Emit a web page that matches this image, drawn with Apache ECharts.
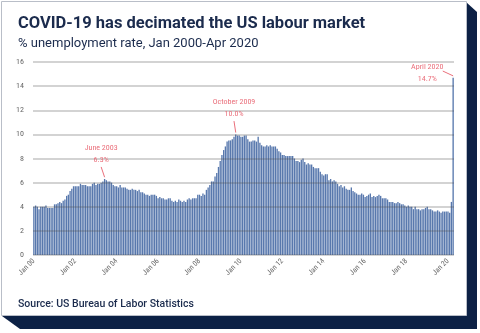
<!DOCTYPE html>
<html>
<head>
<meta charset="utf-8">
<script src="https://cdn.jsdelivr.net/npm/echarts@6/dist/echarts.min.js"></script>
<style>html,body{margin:0;padding:0;background:#fff;}#c{width:480px;height:333px;}</style>
</head>
<body>
<div id="c"></div>
<script>
const years = [2000,2001,2002,2003,2004,2005,2006,2007,2008,2009,2010,2011,2012,2013,2014,2015,2016,2017,2018,2019,2020];
const monthNames = ['Jan','Feb','Mar','Apr','May','Jun','Jul','Aug','Sep','Oct','Nov','Dec'];
const rate2000 = [4.0,4.1,4.0,3.8,4.0,4.0,4.0,4.1,3.9,3.9,3.9,3.9];
const rate2001 = [4.2,4.2,4.3,4.4,4.3,4.5,4.6,4.9,5.0,5.3,5.5,5.7];
const rate2002 = [5.7,5.7,5.7,5.9,5.8,5.8,5.8,5.7,5.7,5.7,5.9,6.0];
const rate2003 = [5.8,5.9,5.9,6.0,6.1,6.3,6.2,6.1,6.1,6.0,5.8,5.7];
const rate2004 = [5.7,5.6,5.8,5.6,5.6,5.6,5.5,5.4,5.4,5.5,5.4,5.4];
const rate2005 = [5.3,5.4,5.2,5.2,5.1,5.0,5.0,4.9,5.0,5.0,5.0,4.9];
const rate2006 = [4.7,4.8,4.7,4.7,4.6,4.6,4.7,4.7,4.5,4.4,4.5,4.4];
const rate2007 = [4.6,4.5,4.4,4.5,4.4,4.6,4.7,4.6,4.7,4.7,4.7,5.0];
const rate2008 = [5.0,4.9,5.1,5.0,5.4,5.6,5.8,6.1,6.1,6.5,6.8,7.3];
const rate2009 = [7.8,8.3,8.7,9.0,9.4,9.5,9.5,9.6,9.8,10.0,9.9,9.9];
const rate2010 = [9.8,9.8,9.9,9.9,9.6,9.4,9.4,9.5,9.5,9.4,9.8,9.3];
const rate2011 = [9.1,9.0,9.0,9.1,9.0,9.1,9.0,9.0,9.0,8.8,8.6,8.5];
const rate2012 = [8.3,8.3,8.2,8.2,8.2,8.2,8.2,8.0,7.8,7.8,7.7,7.9];
const rate2013 = [8.0,7.7,7.5,7.6,7.5,7.5,7.3,7.2,7.2,7.2,6.9,6.7];
const rate2014 = [6.6,6.7,6.7,6.2,6.3,6.1,6.2,6.1,5.9,5.7,5.8,5.6];
const rate2015 = [5.7,5.5,5.4,5.4,5.6,5.3,5.2,5.1,5.0,5.0,5.1,5.0];
const rate2016 = [4.8,4.9,5.0,5.1,4.8,4.9,4.8,4.9,5.0,4.9,4.7,4.7];
const rate2017 = [4.7,4.6,4.4,4.4,4.4,4.3,4.3,4.4,4.3,4.2,4.2,4.1];
const rate2018 = [4.0,4.1,4.0,4.0,3.8,4.0,3.8,3.8,3.7,3.8,3.8,3.9];
const rate2019 = [4.0,3.8,3.8,3.7,3.6,3.6,3.7,3.6,3.5,3.6,3.6,3.6];
const rate2020 = [3.6,3.5,4.4,14.7];
const yTicks = [0,2,4,6,8,10,12,14,16];
const annotations = [
  {month:'Jun 03', value:6.3, title:'June 2003', text:'6.3%', labelMonth:'Apr 03', labelAt:7.3, from:'Apr 03', fromAt:7.3},
  {month:'Oct 09', value:10.0, title:'October 2009', text:'10.0%', labelMonth:'Sep 09', labelAt:11.1, from:'Sep 09', fromAt:11.1},
  {month:'Apr 20', value:14.7, title:'April 2020', text:'14.7%', labelMonth:'Jan 19', labelAt:14.0, from:'Oct 19', fromAt:15.25}
];

const allRates = [rate2000,rate2001,rate2002,rate2003,rate2004,rate2005,rate2006,rate2007,rate2008,rate2009,rate2010,rate2011,rate2012,rate2013,rate2014,rate2015,rate2016,rate2017,rate2018,rate2019,rate2020];
const categories = [], values = [];
years.forEach((y, i) => {
  allRates[i].forEach((v, m) => {
    categories.push(monthNames[m] + ' ' + String(y).slice(2));
    values.push(v);
  });
});

const navy = '#1b2b4d';
const pink = '#ea6f7b';
const labelFont = '"Liberation Sans Narrow", "Roboto Condensed", Roboto, sans-serif';

const chart = echarts.init(document.getElementById('c'), null, {renderer:'canvas'});
chart.setOption({
  animation: false,
  backgroundColor: '#fff',
  graphic: [
    {type:'polygon', z:-10, silent:true, shape:{points:[[466,2],[477,12],[477,329],[20,329],[2,316]]}, style:{fill:'#0c2145'}},
    {type:'rect', z:-9, silent:true, shape:{x:1.5,y:1.5,width:465,height:314}, style:{fill:'#fff', stroke:'#b9bec8', lineWidth:1}}
  ],
  title: [
    {text:'COVID-19 has decimated the US labour market', left:13, top:10,
     textStyle:{fontFamily:'Roboto, sans-serif', fontSize:16.5, fontWeight:'bold', color:navy}},
    {text:'% unemployment rate, Jan 2000-Apr 2020', left:13, top:32,
     textStyle:{fontFamily:'Roboto, sans-serif', fontSize:13, fontWeight:'normal', color:navy}},
    {text:'Source: US Bureau of Labor Statistics', left:13, top:294,
     textStyle:{fontFamily:'Roboto, sans-serif', fontSize:10.5, fontWeight:500, color:navy}}
  ],
  grid: {left:33, right:26, top:62, bottom:78, containLabel:false},
  xAxis: {
    type:'category', data:categories,
    axisLine:{show:false}, axisTick:{show:false},
    axisLabel:{interval:23, rotate:45, fontSize:7.5, color:'#666', fontFamily:labelFont, margin:5}
  },
  yAxis: {
    type:'value', min:0, max:16, interval:2, z:5,
    axisLine:{show:false}, axisTick:{show:false},
    axisLabel:{fontSize:8, color:'#666', fontFamily:labelFont, margin:9},
    splitLine:{lineStyle:{color:'rgba(80,80,80,0.33)', width:1.5}}
  },
  series: [{
    type:'bar', data:values, barCategoryGap:'22%',
    itemStyle:{color:'#4669a4', opacity:0.9},
    markPoint: {
      symbol:'circle', symbolSize:0, silent:true,
      data: annotations.map(a => ({
        coord:[a.labelMonth, a.labelAt],
        label:{show:true, position:'top', distance:1, formatter:'{t|' + a.title + '}\n{v|' + a.text + '}',
          rich:{t:{fontSize:8, color:pink, fontFamily:labelFont, lineHeight:12, align:'center'},
                v:{fontSize:8, color:pink, fontFamily:labelFont, lineHeight:12, align:'center'}}}
      }))
    },
    markLine: {
      symbol:['none','none'], silent:true,
      lineStyle:{color:pink, width:1, type:'solid'},
      label:{show:false},
      data: annotations.map(a => [{coord:[a.from, a.fromAt]}, {coord:[a.month, a.value + 0.15]}])
    }
  }]
});
</script>
</body>
</html>
